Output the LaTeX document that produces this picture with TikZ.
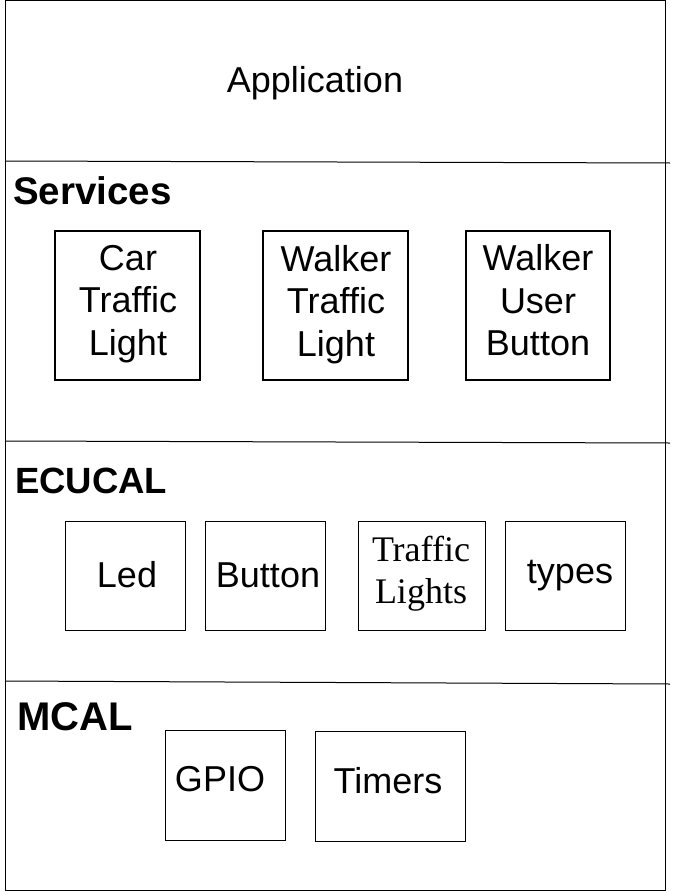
\documentclass[tikz,border=0pt]{standalone}
\usepackage{fontspec}
\setmainfont{Liberation Sans}
\newfontfamily\serifface{Liberation Serif}
\begin{document}
\begin{tikzpicture}[x=1pt,y=-1pt,
  layerline/.style={draw=black,line width=1pt},
  svcbox/.style={draw=black,line width=2pt,minimum width=145pt,minimum height=149pt,inner sep=0pt},
  modbox/.style={draw=black,line width=0.8pt,inner sep=0pt},
  boxtext/.style={align=center,font=\fontsize{36}{42.5}\selectfont,inner sep=0pt},
  heading/.style={anchor=west,font=\fontsize{37.5}{40}\selectfont\bfseries,inner sep=0pt}]
\useasboundingbox (0,0) rectangle (673,891);
\fill[white] (0,0) rectangle (673,891);
% outer frame
\draw[line width=1pt] (5,1) rectangle (665,890);
% layer dividers
\coordinate (d1l) at (5,161); \coordinate (d1r) at (670,163);
\coordinate (d2l) at (5,441); \coordinate (d2r) at (670,443);
\coordinate (d3l) at (5,681); \coordinate (d3r) at (670,684);
\draw[layerline] (d1l) -- (d1r);
\draw[layerline] (d2l) -- (d2r);
\draw[layerline] (d3l) -- (d3r);
% Application
\node[boxtext] (app) at (315,83) {Application};
% Services
\node[heading,font=\fontsize{38.5}{40}\selectfont\bfseries] (svc) at (13,191) {Services};
\node[svcbox] (car) at (127.5,305.5) {};
\node[svcbox] (wtl) at (335.5,305.5) {};
\node[svcbox,minimum width=144pt] (wub) at (538,305.5) {};
\node[boxtext] (cart) at (128,304) {Car\\Traffic\\Light};
\node[boxtext] (wtlt) at (336,304.5) {Walker\\Traffic\\Light};
\node[boxtext] (wubt) at (538,300.5) {Walker\\User\\Button};
% ECUCAL
\node[heading,font=\fontsize{36.5}{40}\selectfont\bfseries] (ecu) at (15,481) {ECUCAL};
\node[modbox,minimum width=120pt,minimum height=109pt] (led) at (125,575.5) {};
\node[modbox,minimum width=120pt,minimum height=109pt] (btn) at (265,575.5) {};
\node[modbox,minimum width=127pt,minimum height=109pt] (tl) at (421.5,575.5) {};
\node[modbox,minimum width=120pt,minimum height=109pt] (typ) at (565,575.5) {};
\node[boxtext] (ledt) at (127,575) {Led};
\node[boxtext] (btnt) at (268,575) {Button};
\node[boxtext,font=\serifface\fontsize{36}{42}\selectfont] (tlt) at (421,574) {Traffic\\Lights};
\node[boxtext] (typt) at (570,575.5) {types};
% MCAL
\node[heading,font=\fontsize{40}{42}\selectfont\bfseries] (mcal) at (17,717) {MCAL};
\node[modbox,minimum width=120pt,minimum height=110pt] (gpio) at (225,785) {};
\node[modbox,minimum width=150pt,minimum height=110pt] (tim) at (390,786) {};
\node[boxtext] (gpiot) at (220,779.5) {GPIO};
\node[boxtext] (timt) at (388,780.5) {Timers};
\end{tikzpicture}
\end{document}
